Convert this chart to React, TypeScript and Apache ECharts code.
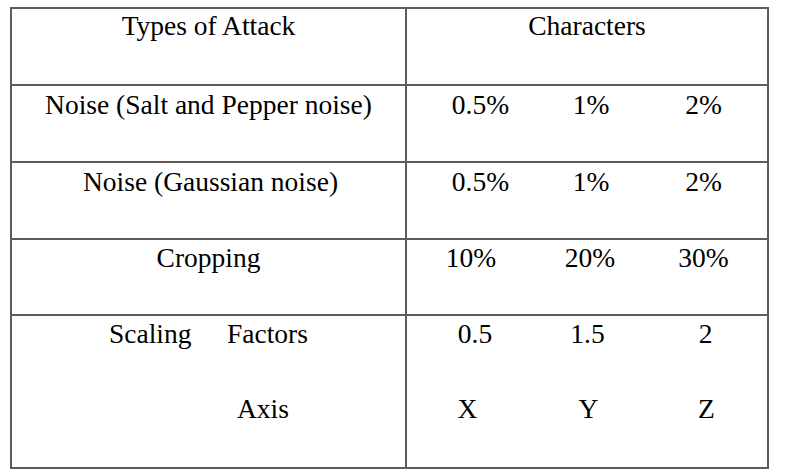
import React, { useEffect, useRef } from "react";
import * as echarts from "echarts";

// ---- Table content ----
const headerLabels = ["Types of Attack", "Characters"];
const attackTypes = ["Noise (Salt and Pepper noise)", "Noise (Gaussian noise)", "Cropping"];
const saltPepperLevels = ["0.5%", "1%", "2%"];
const gaussianLevels = ["0.5%", "1%", "2%"];
const croppingLevels = ["10%", "20%", "30%"];
const scalingLabel = "Scaling";
const factorsLabel = "Factors";
const axisLabel = "Axis";
const scalingFactors = ["0.5", "1.5", "2"];
const scalingAxes = ["X", "Y", "Z"];

// ---- Layout (positions only) ----
const W = 788;
const H = 472;
const LEFT = 11;
const RIGHT = 768;
const TOP = 8;
const BOTTOM = 468;
const DIVIDER = 406;
const rowLines = [85, 162, 239, 315];
const baselines = [34.5, 114, 191, 267, 342.5, 418];
const leftCenter = 208.5;
const rowColCenters = [
  [480.5, 591, 703.5],
  [480.5, 591, 703.5],
  [471, 590, 703.5],
  [475, 587.5, 705.5],
  [467.5, 588.5, 706.5],
];
const FONT_SIZE = 27.5;
const FONT_FAMILY = "Times New Roman, Liberation Serif, DejaVu Serif, serif";
const LINE_COLOR = "#5c5c5c";
const MID_OFFSET = 9.5;

function txt(text: string, x: number, baseline: number, align: string = "center") {
  return {
    type: "text",
    x,
    y: baseline - MID_OFFSET,
    silent: true,
    style: {
      text,
      fill: "#000",
      fontFamily: FONT_FAMILY,
      fontSize: FONT_SIZE,
      textAlign: align,
      textVerticalAlign: "middle",
      align,
      verticalAlign: "middle",
    },
  };
}

function line(x1: number, y1: number, x2: number, y2: number) {
  return {
    type: "line",
    silent: true,
    shape: { x1, y1, x2, y2 },
    style: { stroke: LINE_COLOR, lineWidth: 2 },
  };
}

export default function App() {
  const ref = useRef<HTMLDivElement>(null);
  useEffect(() => {
    if (!ref.current) return;
    const chart = echarts.init(ref.current, undefined, { renderer: "svg" });
    const elements: any[] = [];
    elements.push({ type: "rect", shape: { x: 0, y: 0, width: W, height: H }, style: { fill: "#fff" }, silent: true });
    // borders
    elements.push(line(LEFT, TOP, RIGHT, TOP));
    elements.push(line(LEFT, BOTTOM, RIGHT, BOTTOM));
    elements.push(line(LEFT, TOP - 1, LEFT, BOTTOM + 1));
    elements.push(line(RIGHT, TOP - 1, RIGHT, BOTTOM + 1));
    elements.push(line(DIVIDER, TOP, DIVIDER, BOTTOM));
    rowLines.forEach((y) => elements.push(line(LEFT, y, RIGHT, y)));

    // header
    elements.push(txt(headerLabels[0], leftCenter, baselines[0]));
    elements.push(txt(headerLabels[1], 587, baselines[0]));

    const valueRows = [saltPepperLevels, gaussianLevels, croppingLevels];
    attackTypes.forEach((t, i) => {
      elements.push(txt(t, leftCenter + (i === 1 ? 2 : 0), baselines[i + 1]));
      valueRows[i].forEach((v, j) => elements.push(txt(v, rowColCenters[i][j], baselines[i + 1])));
    });

    // scaling
    elements.push(txt(scalingLabel, 109, baselines[4], "left"));
    elements.push(txt(factorsLabel, 227, baselines[4], "left"));
    elements.push(txt(axisLabel, 237, baselines[5], "left"));
    scalingFactors.forEach((v, j) => elements.push(txt(v, rowColCenters[3][j], baselines[4])));
    scalingAxes.forEach((v, j) => elements.push(txt(v, rowColCenters[4][j], baselines[5])));

    chart.setOption({
      animation: false,
      backgroundColor: "#fff",
      graphic: { elements },
    });
    return () => chart.dispose();
  }, []);
  return (
    <div
      ref={ref}
      style={{ position: "absolute", left: 0, top: 0, width: W, height: H, background: "#fff" }}
    />
  );
}
